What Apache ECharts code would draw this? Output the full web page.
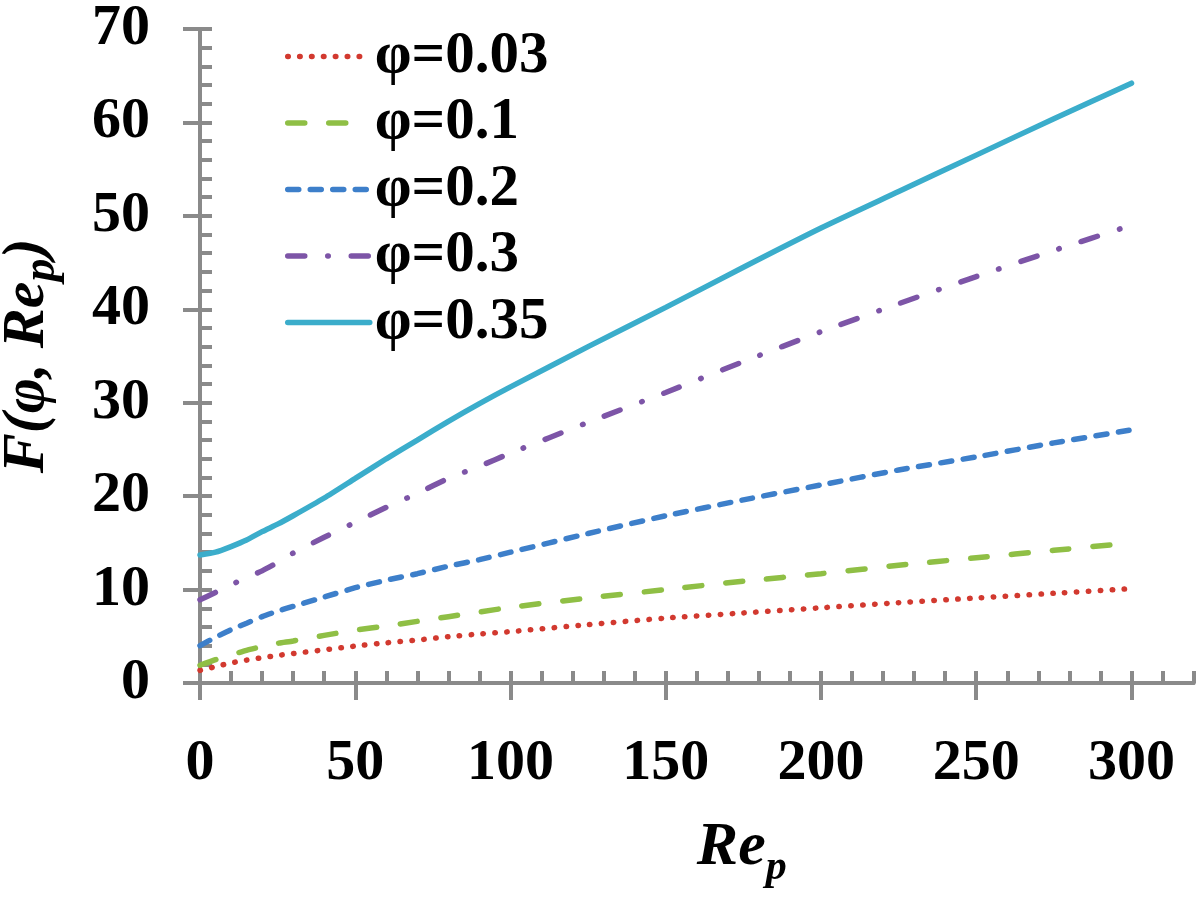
<!DOCTYPE html>
<html>
<head>
<meta charset="utf-8">
<script src="https://cdn.jsdelivr.net/npm/echarts@6/dist/echarts.min.js"></script>
<style>
html,body{margin:0;padding:0;background:#fff;}
#chart{width:1196px;height:900px;}
</style>
</head>
<body>
<div id="chart"></div>
<script>
const reValues = [0,5,10,15,20,25,30,40,50,60,70,80,90,100,125,150,175,200,225,250,275,300];
const phi003 = [1.35,1.75,2.15,2.45,2.7,2.95,3.15,3.55,3.95,4.3,4.6,4.95,5.25,5.5,6.25,6.95,7.5,8.05,8.6,9.1,9.6,10.1];
const phi01  = [1.9,2.5,3.0,3.5,3.9,4.25,4.5,5.1,5.65,6.1,6.6,7.1,7.6,8.1,9.1,10.0,10.9,11.7,12.6,13.4,14.2,15.0];
const phi02  = [4.0,4.9,5.7,6.4,7.1,7.7,8.2,9.2,10.2,11.0,11.7,12.5,13.2,14.0,16.0,17.9,19.6,21.2,22.8,24.2,25.7,27.1];
const phi03  = [8.9,9.7,10.5,11.3,12.0,12.9,13.9,15.6,17.2,18.8,20.3,21.9,23.2,24.6,27.9,31.1,34.4,37.6,40.6,43.5,46.3,49.0];
const phi035 = [13.7,14.0,14.6,15.3,16.2,17.0,17.9,19.8,21.9,24.0,26.0,28.0,29.9,31.7,36.0,40.2,44.5,48.7,52.6,56.5,60.4,64.2];
const seriesNames = ['φ=0.03','φ=0.1','φ=0.2','φ=0.3','φ=0.35'];
const xTickLabels = [0,50,100,150,200,250,300];
const yTickLabels = [0,10,20,30,40,50,60,70];

const allValues = [phi003, phi01, phi02, phi03, phi035];
const colors = ['#D2392F','#8FBF45','#3D7FCA','#7D55A7','#3BADCB'];
const dashes = [[0.5,11.4],[17,24],[11,11.5],[17,23,0.5,23],'solid'];
const widths = [5.5,5.5,5.5,5.5,5.5];

const axisGray = '#8A8A8A';
const serif = '"Liberation Serif","Times New Roman",serif';

const chart = echarts.init(document.getElementById('chart'));
const series = allValues.map((vals, i) => ({
  name: seriesNames[i],
  type: 'line',
  xAxisIndex: 0,
  yAxisIndex: 0,
  data: reValues.map((x, j) => [x, vals[j]]),
  smooth: 0.2,
  symbol: 'none',
  showSymbol: false,
  lineStyle: {color: colors[i], width: widths[i], type: dashes[i], cap: 'round'},
  itemStyle: {color: colors[i]},
  z: 5 + i
}));

chart.setOption({
  animation: false,
  backgroundColor: '#fff',
  grid: {left: 200, right: 2.4, top: 29, bottom: 217, containLabel: false, outerBoundsMode: 'none'},
  legend: {
    orient: 'vertical',
    left: 280,
    top: 22,
    itemWidth: 82,
    itemHeight: 10,
    itemGap: 7.5,
    itemStyle: {opacity: 0, color: 'rgba(0,0,0,0)', borderWidth: 0},
    textStyle: {fontFamily: serif, fontWeight: 'bold', fontSize: 59, color: '#000', lineHeight: 58},
    data: seriesNames.map((n, i) => ({
      name: n,
      lineStyle: {color: colors[i], width: widths[i], type: dashes[i], cap: 'round'}
    }))
  },
  xAxis: [
    {
      type: 'value', min: 0, max: 320, interval: 50, position: 'bottom',
      axisLine: {show: true, lineStyle: {color: axisGray, width: 4}},
      axisTick: {show: true, inside: false, length: 17, lineStyle: {color: axisGray, width: 4}, customValues: xTickLabels},
      axisLabel: {show: true, margin: 52, customValues: xTickLabels, fontFamily: serif, fontWeight: 'bold', fontSize: 58, color: '#000'},
      splitLine: {show: false},
      name: '{a|Re}{b|p}',
      nameLocation: 'middle',
      nameGap: 124,
      nameTextStyle: {
        padding: [0,0,0,90],
        rich: {
          a: {fontFamily: serif, fontWeight: 'bold', fontStyle: 'italic', fontSize: 62, color: '#000'},
          b: {fontFamily: serif, fontWeight: 'bold', fontStyle: 'italic', fontSize: 42, color: '#000', padding: [40,0,0,0]}
        }
      }
    },
    {
      type: 'value', min: 0, max: 320, interval: 10, position: 'bottom',
      axisLine: {show: true, lineStyle: {color: axisGray, width: 4}},
      axisTick: {show: true, inside: true, length: 12, lineStyle: {color: axisGray, width: 4}},
      axisLabel: {show: false},
      splitLine: {show: false}
    }
  ],
  yAxis: [
    {
      type: 'value', min: 0, max: 70, interval: 10, position: 'left',
      axisLine: {show: true, lineStyle: {color: axisGray, width: 4}},
      axisTick: {show: true, inside: false, length: 17, lineStyle: {color: axisGray, width: 4}, customValues: yTickLabels},
      axisLabel: {show: true, margin: 50, customValues: yTickLabels, fontFamily: serif, fontWeight: 'bold', fontSize: 58, color: '#000'},
      splitLine: {show: false},
      name: '{a|F(}{c|φ}{a|, Re}{b|p}{a|)}',
      nameLocation: 'middle',
      nameRotate: 90,
      nameGap: 135,
      nameTextStyle: {
        rich: {
          a: {fontFamily: serif, fontWeight: 'bold', fontStyle: 'italic', fontSize: 60, color: '#000'},
          c: {fontFamily: serif, fontWeight: 'bold', fontStyle: 'italic', fontSize: 60, color: '#000'},
          b: {fontFamily: serif, fontWeight: 'bold', fontStyle: 'italic', fontSize: 46, color: '#000', padding: [30,0,0,0]}
        }
      }
    },
    {
      type: 'value', min: 0, max: 70, interval: 2, position: 'left',
      axisLine: {show: true, lineStyle: {color: axisGray, width: 4}},
      axisTick: {show: true, inside: true, length: 12, lineStyle: {color: axisGray, width: 4}},
      axisLabel: {show: false},
      splitLine: {show: false}
    }
  ],
  series: series
});
</script>
</body>
</html>
